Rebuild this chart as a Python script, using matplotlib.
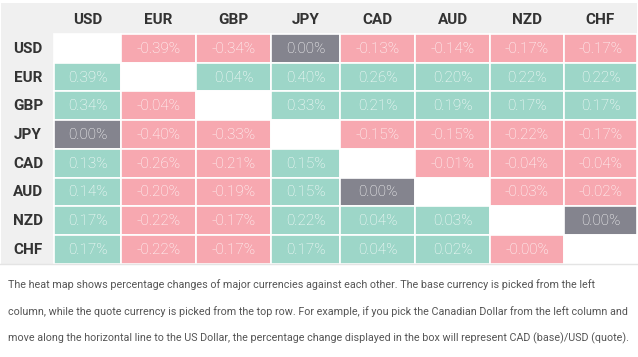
import matplotlib
matplotlib.use("Agg")
import matplotlib.pyplot as plt
from matplotlib.patches import Rectangle
from matplotlib import font_manager
import numpy as np

currencies = ["USD", "EUR", "GBP", "JPY", "CAD", "AUD", "NZD", "CHF"]
usd = [None, -0.39, -0.34, 0.00, -0.13, -0.14, -0.17, -0.17]
eur = [0.39, None, 0.04, 0.40, 0.26, 0.20, 0.22, 0.22]
gbp = [0.34, -0.04, None, 0.33, 0.21, 0.19, 0.17, 0.17]
jpy = [0.00, -0.40, -0.33, None, -0.15, -0.15, -0.22, -0.17]
cad = [0.13, -0.26, -0.21, 0.15, None, -0.01, -0.04, -0.04]
aud = [0.14, -0.20, -0.19, 0.15, 0.00, None, -0.03, -0.02]
nzd = [0.17, -0.22, -0.17, 0.22, 0.04, 0.03, None, 0.00]
chf = [0.17, -0.22, -0.17, 0.17, 0.04, 0.02, -0.0, None]
rows = [usd, eur, gbp, jpy, cad, aud, nzd, chf]

caption = [
    "The heat map shows percentage changes of major currencies against each other. The base currency is picked from the left",
    "column, while the quote currency is picked from the top row. For example, if you pick the Canadian Dollar from the left column and",
    "move along the horizontal line to the US Dollar, the percentage change displayed in the box will represent CAD (base)/USD (quote).",
]

# layout (pixels)
col_edges = [54, 121, 196, 271, 340, 415, 490, 564, 637]
row_edges = [34, 62.7, 91.4, 120.1, 148.8, 177.5, 206.2, 234.9, 263.6]
W, H = 638, 357

POS = "#9dd6c8"
NEG = "#f7a8b0"
ZERO = "#84848e"
HEAD_BG = "#f0f0f0"

fig = plt.figure(figsize=(W / 100, H / 100), dpi=100)
ax = fig.add_axes([0, 0, 1, 1])
ax.set_xlim(0, W)
ax.set_ylim(H, 0)
ax.axis("off")

# header backgrounds
ax.add_patch(Rectangle((1, 3), col_edges[-1] - 1, row_edges[0] - 3, facecolor=HEAD_BG, edgecolor="none"))
ax.add_patch(Rectangle((1, 3), col_edges[0] - 1, row_edges[-1] - 3, facecolor=HEAD_BG, edgecolor="none"))
ax.plot([0, W], [row_edges[-1] + 0.5, row_edges[-1] + 0.5], color="#e4e4e4", lw=1)

for j, c in enumerate(currencies):
    xc = (col_edges[j] + col_edges[j + 1]) / 2
    ax.text(xc, (3 + row_edges[0]) / 2 + 1, c, ha="center", va="center",
            fontsize=11, fontweight="bold", family="Roboto", color="#333333")
for i, c in enumerate(currencies):
    yc = (row_edges[i] + row_edges[i + 1]) / 2
    ax.text(28, yc + 0.5, c, ha="center", va="center",
            fontsize=11, fontweight="bold", family="Roboto", color="#333333")

for i, row in enumerate(rows):
    for j, v in enumerate(row):
        x0, x1 = col_edges[j], col_edges[j + 1]
        y0, y1 = row_edges[i], row_edges[i + 1]
        if v is None:
            fc = "white"
        elif v == 0 and not np.signbit(v):
            fc = ZERO
        elif v > 0:
            fc = POS
        else:
            fc = NEG
        ax.add_patch(Rectangle((x0, y0), x1 - x0, y1 - y0, facecolor=fc,
                               edgecolor="white", lw=1.2))
        if v is not None:
            ax.text((x0 + x1) / 2, (y0 + y1) / 2 + 0.5, f"{v:.2f}%", ha="center", va="center",
                    fontsize=11, fontweight="light", family="Roboto", color="white")

# caption: pick a narrow family if present, then fit to the reference width
names = {f.name for f in font_manager.fontManager.ttflist}
cap_family = "Liberation Sans Narrow" if "Liberation Sans Narrow" in names else "Roboto"
cap_texts = []
for k, line in enumerate(caption):
    cap_texts.append(ax.text(8, 285 + k * 26.5, line, ha="left", va="center", fontsize=8,
                             family=cap_family, color="#555555"))
fig.canvas.draw()
r = fig.canvas.get_renderer()
target = 622.0
wid = cap_texts[1].get_window_extent(r).width
fs = 8 * target / wid
for t in cap_texts:
    t.set_fontsize(fs)

fig.savefig("out.png", dpi=100)
